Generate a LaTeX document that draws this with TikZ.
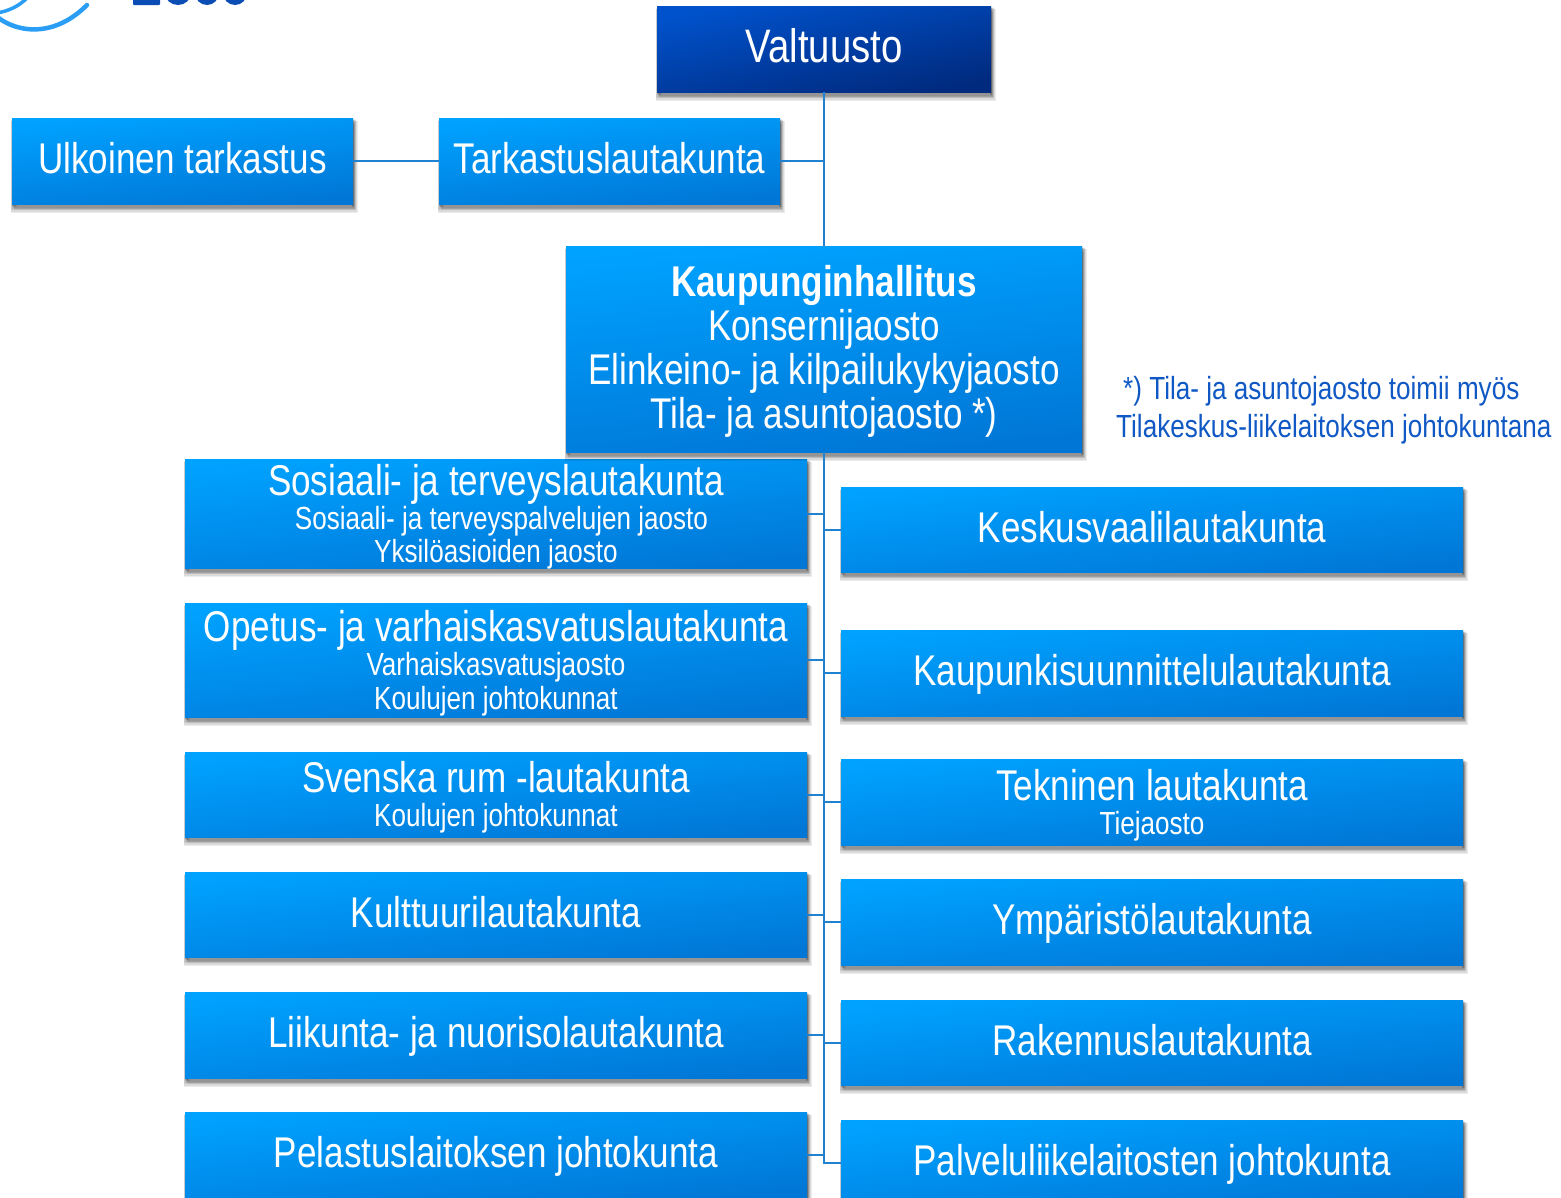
\documentclass[tikz,border=0pt]{standalone}
\usepackage{fontspec}
\setmainfont[FakeStretch=0.815]{Liberation Sans}
\definecolor{boxtop}{HTML}{00A2FF}
\definecolor{boxbot}{HTML}{0076D6}
\definecolor{darktop}{HTML}{0052CC}
\definecolor{darkbot}{HTML}{002A7E}
\definecolor{linec}{HTML}{1F82D0}
\definecolor{logoa}{HTML}{2A9DF4}
\definecolor{logob}{HTML}{0B4DB5}
\definecolor{notec}{HTML}{1058C4}
\newcommand{\bigtxt}{\fontsize{43}{44}\selectfont}
\newcommand{\smtxt}{\fontsize{32}{34}\selectfont}
% one line of text: exact height above its baseline, centred on a zero-width box
\newcommand{\tline}[2]{\vbox to #1pt{\vfill\hbox to 0pt{\hss\smash{#2}\hss}}}
\newcommand{\tstack}[1]{\vbox{\offinterlineskip #1}}
\tikzset{
  shadowlayer/.style n args={3}{preaction={draw=black,fill=black,opacity=.075,line width=#1,transform canvas={shift={(#2,#3)}}}},
  softshadow/.style={
    shadowlayer={6pt}{2.1pt}{-6pt},
    shadowlayer={5pt}{1.75pt}{-5pt},
    shadowlayer={4pt}{1.4pt}{-4pt},
    shadowlayer={3pt}{1.05pt}{-3pt},
    shadowlayer={2pt}{0.7pt}{-2pt},
    shadowlayer={1pt}{0.35pt}{-1pt}},
  orgbox/.style={rectangle,inner sep=0pt,outer sep=0pt,text=white,softshadow,
    top color=boxtop,bottom color=boxbot,shading angle=6},
  darkbox/.style={orgbox,top color=darktop,bottom color=darkbot,shading angle=12},
  conn/.style={draw=linec,line width=2pt},
  note/.style={text=notec,font=\fontsize{32}{38}\selectfont,inner sep=0pt}
}
\newcommand{\orgnode}[7][orgbox]{% style, name, x1, y1, x2, y2, text
  \node[#1,minimum width={(#5-#3)*1pt},minimum height={(#6-#4)*1pt}] (#2) at ({(#3+#5)/2},{(#4+#6)/2}) {#7};}
\newcommand{\oneline}[1]{\tstack{\tline{25}{\bigtxt #1}}}
\begin{document}
\begin{tikzpicture}[x=1pt,y=-1pt]
\useasboundingbox (0,0) rectangle (1561,1197);
\clip (0,0) rectangle (1561,1197);
% logo fragments
\draw[logoa,line width=4.5pt,line cap=round] (-6,14) .. controls (10,30) and (50,42) .. (87,5);
\draw[logoa,line width=3.5pt,line cap=round] (-3,13) .. controls (8,11) and (18,7) .. (27,-2);
\fill[logob,rounded corners=1pt] (133,-4) rectangle (160,5);
\fill[logob] (178,-7) ellipse (13 and 12);
\fill[logob] (207,-7) ellipse (12 and 12);
\fill[logob] (235,-7) ellipse (12 and 12);
% nodes
\orgnode[darkbox]{valt}{657}{6}{991}{92}{\tstack{\tline{26}{\fontsize{47}{48}\selectfont Valtuusto}}}
\orgnode{ulk}{12}{118}{353}{204}{\oneline{Ulkoinen tarkastus}}
\orgnode{tark}{439}{118}{780}{204}{\oneline{Tarkastuslautakunta}}
\orgnode{l1}{185}{459}{807}{568}{\tstack{\tline{30}{\bigtxt Sosiaali- ja terveyslautakunta}\tline{34}{\smtxt \hspace*{11pt}Sosiaali- ja terveyspalvelujen jaosto}\tline{33}{\smtxt Yksilöasioiden jaosto}}}
\orgnode{l2}{185}{603}{807}{717}{\tstack{\tline{30}{\bigtxt Opetus- ja varhaiskasvatuslautakunta}\tline{34}{\smtxt Varhaiskasvatusjaosto}\tline{34}{\smtxt Koulujen johtokunnat}}}
\orgnode{l3}{185}{752}{807}{837}{\tstack{\tline{29}{\bigtxt Svenska rum -lautakunta}\tline{34}{\smtxt Koulujen johtokunnat}}}
\orgnode{l4}{185}{872}{807}{957}{\oneline{Kulttuurilautakunta}}
\orgnode{l5}{185}{992}{807}{1078}{\oneline{Liikunta- ja nuorisolautakunta}}
\orgnode{l6}{185}{1112}{807}{1198}{\oneline{Pelastuslaitoksen johtokunta}}
\orgnode{r1}{841}{487}{1463}{572}{\oneline{Keskusvaalilautakunta}}
\orgnode{r2}{841}{630}{1463}{716}{\oneline{Kaupunkisuunnittelulautakunta}}
\orgnode{r3}{841}{759}{1463}{845}{\tstack{\tline{30}{\bigtxt Tekninen lautakunta}\tline{34}{\smtxt Tiejaosto}}}
\orgnode{r4}{841}{879}{1463}{965}{\oneline{Ympäristölautakunta}}
\orgnode{r5}{841}{1000}{1463}{1085}{\oneline{Rakennuslautakunta}}
\orgnode{r6}{841}{1120}{1463}{1206}{\oneline{Palveluliikelaitosten johtokunta}}
\orgnode{kh}{566}{246}{1082}{452}{\tstack{\tline{26}{\bigtxt\bfseries Kaupunginhallitus}\tline{44}{\bigtxt Konsernijaosto}\tline{44}{\bigtxt Elinkeino- ja kilpailukykyjaosto}\tline{44}{\bigtxt Tila- ja asuntojaosto *)}}}
\node[note,anchor=base west] (n1) at (1123,399) {*) Tila- ja asuntojaosto toimii myös};
\node[note,anchor=base west] (n2) at (1116,437) {Tilakeskus-liikelaitoksen johtokuntana};
% connectors
\draw[conn] (valt.south) -- (kh.north);
\draw[conn] (ulk.east) -- (tark.west);
\draw[conn] (tark.east) -- (tark.east -| valt.south);
\draw[conn] (kh.south) |- (r6.west);
\foreach \n in {l1,l2,l3,l4,l5,l6}{\draw[conn] (\n.east) -- (\n.east -| kh.south);}
\foreach \n in {r1,r2,r3,r4,r5}{\draw[conn] (\n.west) -- (\n.west -| kh.south);}
\end{tikzpicture}
\end{document}
